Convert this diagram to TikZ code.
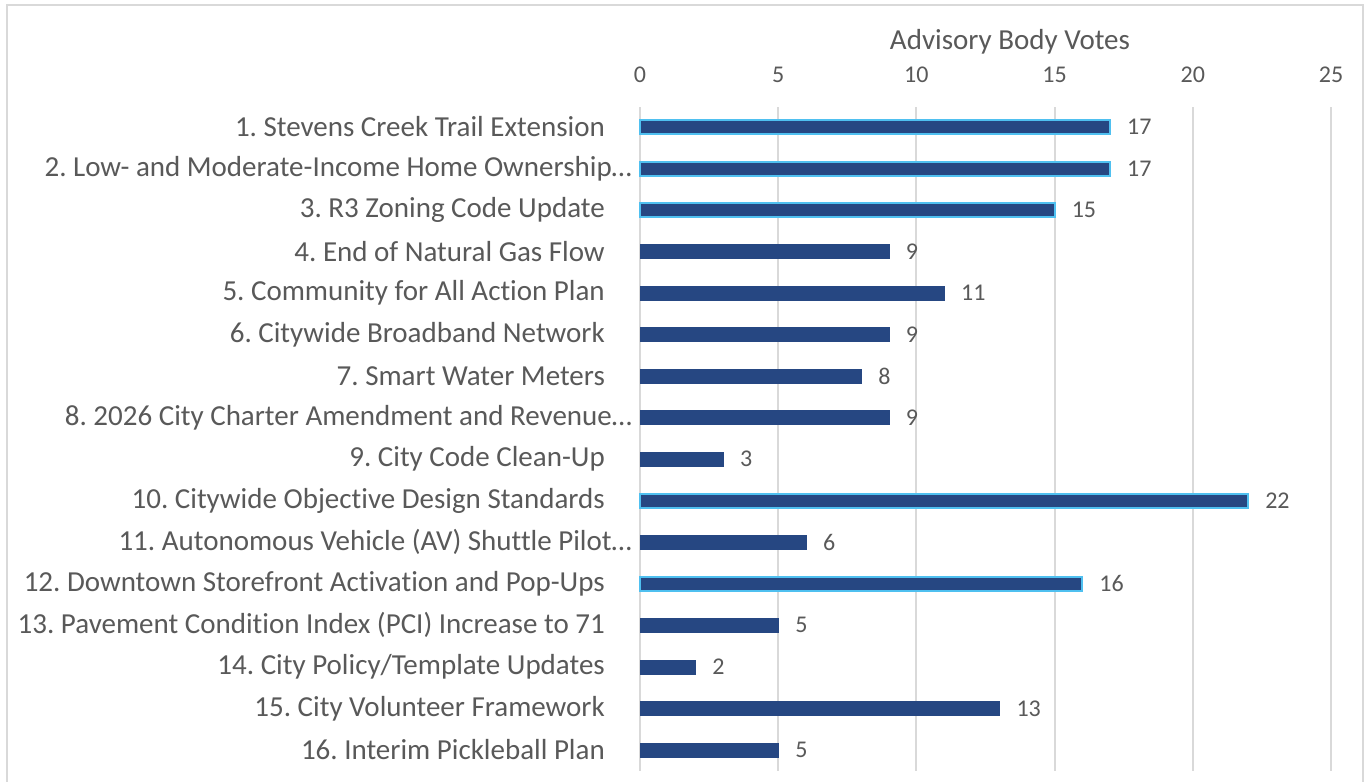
\documentclass[tikz,border=0pt]{standalone}
\usepackage{fontspec}
\setmainfont{Carlito}[Ligatures=NoCommon]
\frenchspacing
\definecolor{txtgray}{HTML}{595959}
\definecolor{gridgray}{HTML}{D9D9D9}
\definecolor{barblue}{HTML}{264782}
\definecolor{barcyan}{HTML}{4FC0F0}
\newcommand\chartbar[5]{%
  \pgfmathsetmacro\yy{127+(#1-1)*41.53}%
  \pgfmathsetmacro\xx{640+#2*27.64}%
  \node[catlabel, anchor=east] (lab#1) at (#4,\yy) {#3};
  \draw[barbase,#5] (640,\yy-7) rectangle (\xx,\yy+7);
  \node[vallabel, anchor=west] (val#1) at (\xx+17,\yy) {#2};
}
\begin{document}
\begin{tikzpicture}[x=1pt,y=-1pt,
  catlabel/.style={text=txtgray, font=\fontsize{29}{34}\selectfont, inner sep=0pt},
  vallabel/.style={text=txtgray, font=\fontsize{24}{28}\selectfont, inner sep=0pt},
  ticklabel/.style={text=txtgray, font=\fontsize{24}{28}\selectfont, inner sep=0pt},
  titlelabel/.style={text=txtgray, font=\fontsize{29}{34}\selectfont, inner sep=0pt},
  gridline/.style={draw=gridgray, line width=2pt},
  barbase/.style={fill=barblue, draw=barblue, line width=0.5pt},
  hilite/.style={draw=barcyan, line width=2pt},
  plain/.style={}
]
\useasboundingbox (0,0) rectangle (1369,782);
\fill[white] (0,0) rectangle (1369,782);
% frame
\draw[gridgray, line width=2pt] (7,782) -- (7,5) -- (1363,5) -- (1363,782);
% gridlines and tick labels
\foreach \v in {0,5,10,15,20,25}{
  \pgfmathsetmacro\gx{640+\v*27.64}
  \draw[gridline] (\gx,107) -- (\gx,771);
  \node[ticklabel] (tick\v) at (\gx,75) {\v};
}
\node[titlelabel] (axtitle) at (1010,42) {Advisory Body Votes};
% bars
\chartbar{1}{17}{1. Stevens Creek Trail Extension}{605}{hilite}
\chartbar{2}{17}{2. Low- and Moderate-Income Home Ownership…}{632}{hilite}
\chartbar{3}{15}{3. R3 Zoning Code Update}{605}{hilite}
\chartbar{4}{9}{4. End of Natural Gas Flow}{605}{plain}
\chartbar{5}{11}{5. Community for All Action Plan}{605}{plain}
\chartbar{6}{9}{6. Citywide Broadband Network}{605}{plain}
\chartbar{7}{8}{7. Smart Water Meters}{605}{plain}
\chartbar{8}{9}{8. 2026 City Charter Amendment and Revenue…}{632}{plain}
\chartbar{9}{3}{9. City Code Clean-Up}{605}{plain}
\chartbar{10}{22}{10. Citywide Objective Design Standards}{605}{hilite}
\chartbar{11}{6}{11. Autonomous Vehicle (AV) Shuttle Pilot…}{632}{plain}
\chartbar{12}{16}{12. Downtown Storefront Activation and Pop-Ups}{605}{hilite}
\chartbar{13}{5}{13. Pavement Condition Index (PCI) Increase to 71}{605}{plain}
\chartbar{14}{2}{14. City Policy/Template Updates}{605}{plain}
\chartbar{15}{13}{15. City Volunteer Framework}{605}{plain}
\chartbar{16}{5}{16. Interim Pickleball Plan}{605}{plain}
\end{tikzpicture}
\end{document}
